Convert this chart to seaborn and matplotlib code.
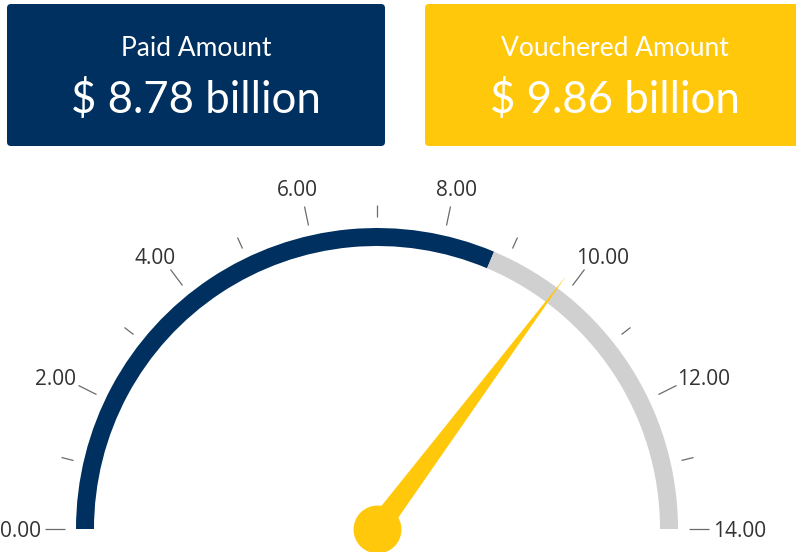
import matplotlib
matplotlib.use("Agg")
import matplotlib.pyplot as plt
from matplotlib.patches import FancyBboxPatch
import matplotlib.transforms as mtransforms
import numpy as np
import seaborn as sns

# KPI cards
card_titles = ["Paid Amount", "Vouchered Amount"]
card_values = [8.78, 9.86]  # billions

# gauge scale
gauge_min = 0
gauge_max = 14
major_ticks = [0, 2, 4, 6, 8, 10, 12, 14]
minor_ticks = [1, 3, 5, 7, 9, 11, 13]
paid_value = card_values[0]
needle_value = card_values[1]

NAVY = "#00305F"
GOLD = "#FFC80A"
GREY = "#D0D0D0"

sns.set_theme(style="white")
plt.rcParams["font.family"] = ["Lato", "DejaVu Sans"]

W, H = 796, 552
fig = plt.figure(figsize=(W / 100, H / 100), dpi=100)
fig.patch.set_facecolor("white")

# card layer, one data unit = one pixel
card_ax = fig.add_axes([0, 0, 1, 1])
card_ax.set_xlim(0, W)
card_ax.set_ylim(H, 0)
card_ax.axis("off")

cards = [(7, 4, 378, 142, NAVY), (425, 4, 380, 142, GOLD)]
for (x, y, w, h, c), title, val in zip(cards, card_titles, card_values):
    card_ax.add_patch(FancyBboxPatch((x + 4, y + 4), w - 8, h - 8,
                                     boxstyle="round,pad=4", fc=c, ec="none"))
    mid = x + w / 2
    card_ax.text(mid, 49, title, color="white", fontsize=19,
                 ha="center", va="center")
    card_ax.text(mid, 100, f"$ {val:.2f} billion", color="white", fontsize=31.5,
                 ha="center", va="center")

# gauge as a polar axes centred on the hub
cx, cy, r_axis = 377, 529, 312
gauge = fig.add_axes([(cx - r_axis) / W, (H - cy - r_axis) / H,
                      2 * r_axis / W, 2 * r_axis / H], projection="polar")
gauge.set_theta_offset(np.pi)
gauge.set_theta_direction(-1)
gauge.set_ylim(0, r_axis)
gauge.set_facecolor("none")
gauge.spines["polar"].set_visible(False)
gauge.grid(False)
gauge.set_yticks([])


def to_theta(v):
    return (np.asarray(v, dtype=float) - gauge_min) / (gauge_max - gauge_min) * np.pi


r_in, band = 283, 18
gauge.bar(to_theta(gauge_min), band, width=to_theta(paid_value), bottom=r_in,
          align="edge", color=NAVY, linewidth=0)
gauge.bar(to_theta(paid_value), band, width=to_theta(gauge_max) - to_theta(paid_value),
          bottom=r_in, align="edge", color=GREY, linewidth=0)

gauge.set_xticks(to_theta(major_ticks), labels=[""] * len(major_ticks))
gauge.set_xticks(to_theta(minor_ticks), minor=True)
gauge.tick_params(axis="x", which="major", bottom=False, top=True, direction="out",
                  length=14.4, width=0.9, color="#6b6b6b")
gauge.tick_params(axis="x", which="minor", bottom=False, top=True, direction="out",
                  length=8.6, width=0.9, color="#6b6b6b")

# tick labels: box edge sits on a circle just outside the tick marks
renderer = fig.canvas.get_renderer()
r_label = 336
fs = 15
for v in major_ticks:
    th = float(to_theta(v))
    ang = np.pi - th
    txt = gauge.text(th, r_label, f"{v:.2f}", ha="center", va="center_baseline",
                     fontsize=fs, color="#333333", family="Open Sans")
    bb = txt.get_window_extent(renderer)
    dx = bb.width / 2 * np.cos(ang)
    dy = 0.65 * fs * 100 / 72 * np.sin(ang)
    txt.set_transform(mtransforms.offset_copy(gauge.transData, fig=fig,
                                              x=dx, y=dy, units="dots"))

# needle + hub
t = float(to_theta(needle_value))
gauge.fill([t + np.pi / 2, t, t - np.pi / 2], [11, 316, 11], color=GOLD,
           linewidth=0, clip_on=False, zorder=4)
gauge.scatter([0], [0], s=1190, color=GOLD, linewidth=0, clip_on=False, zorder=5)

fig.savefig("out.png", dpi=100, facecolor="white")
